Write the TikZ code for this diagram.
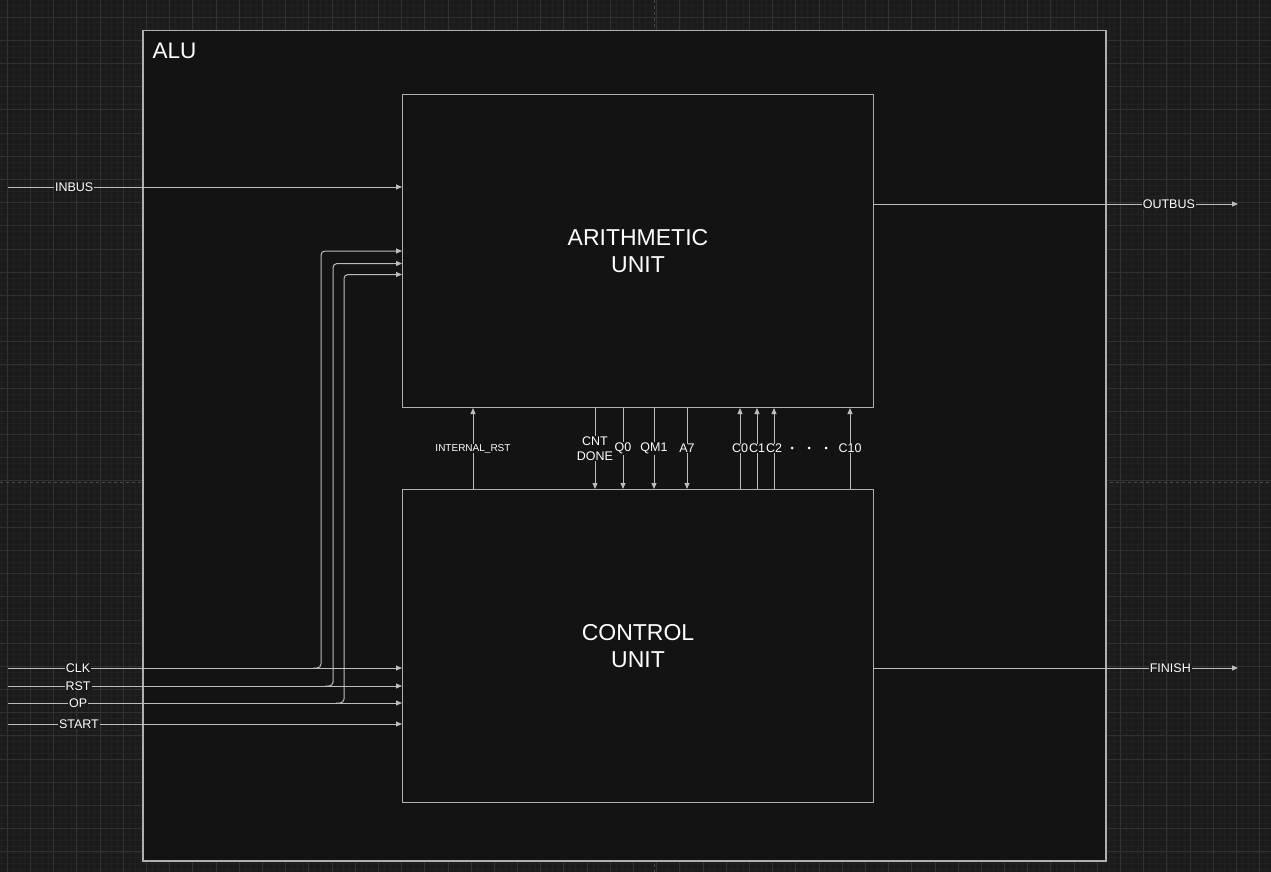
\documentclass[tikz,border=0pt]{standalone}
\usepackage{fontspec}
\setmainfont{Liberation Sans}
\usetikzlibrary{arrows.meta,positioning,calc}

\definecolor{canvas}{HTML}{1B1B1B}
\definecolor{gridminor}{HTML}{212121}
\definecolor{gridmajor}{HTML}{323232}
\definecolor{pagebreak}{HTML}{4A4A4A}
\definecolor{boxfill}{HTML}{131313}
\definecolor{framegray}{HTML}{B0B0B0}
\definecolor{wiregray}{HTML}{BDBDBD}

\begin{document}
\begin{tikzpicture}[
  x=1pt, y=-1pt,
  font=\fontsize{12.5}{15}\selectfont,
  >={Triangle[length=6pt,width=5pt]},
  frame/.style={
    rectangle,
    draw=framegray,
    line width=1.5pt,
    fill=boxfill,
    anchor=north west,
    minimum width=963pt,
    minimum height=830pt
  },
  unit/.style={
    rectangle,
    draw=framegray,
    line width=1pt,
    fill=boxfill,
    align=center,
    text=white,
    minimum width=471pt,
    minimum height=313pt,
    font=\fontsize{23}{27}\selectfont
  },
  wire/.style={draw=wiregray, line width=1pt},
  sig/.style={->, wire},
  tag/.style={fill=canvas, text=white, inner sep=1pt, align=center},
  midtag/.style={tag, fill=boxfill, inner sep=0.5pt, midway},
  gridline/.style={draw=gridminor, line width=0.6pt},
  gridbold/.style={draw=gridmajor, line width=0.8pt}
]

% canvas and grid
\useasboundingbox (0,0) rectangle (1271,872);
\fill[canvas] (0,0) rectangle (1271,872);
\foreach \i in {0,...,219}
  \draw[gridline] ({1.5+5.7975*\i},0) -- ++(0,872);
\foreach \i in {0,...,151}
  \draw[gridline] (0,{-0.4+5.7975*\i}) -- ++(1271,0);
\foreach \i in {0,...,54}
  \draw[gridbold] ({7.3+23.19*\i},0) -- ++(0,872);
\foreach \i in {0,...,37}
  \draw[gridbold] (0,{17+23.19*\i}) -- ++(1271,0);
\draw[pagebreak, dashed, line width=1pt] (654,0) -- (654,872);
\draw[pagebreak, dashed, line width=1pt] (0,482) -- (1271,482);

% blocks
\node[frame] (alu) at (142,30) {};
\node[anchor=base west, text=white, font=\fontsize{22.5}{26}\selectfont] (alutitle)
  at ($(alu.north west)+(7,29)$) {ALU};
\node[unit, anchor=north west] (au) at (402,94) {ARITHMETIC\\UNIT};
\node[unit, below=81pt of au] (cu) {CONTROL\\UNIT};

% inputs
\coordinate (inbus) at (8,187);
\coordinate (clk) at (8,668);
\coordinate (rst) at (8,686);
\coordinate (op) at (8,703);
\coordinate (start) at (8,724);

\draw[sig] (inbus) -- (au.west |- inbus) node[tag, pos=0.168] {INBUS};
\draw[sig] (clk) -- (cu.west |- clk) node[tag, pos=0.178] {CLK};
\draw[sig] (rst) -- (cu.west |- rst) node[tag, pos=0.178] {RST};
\draw[sig] (op) -- (cu.west |- op) node[tag, pos=0.178] {OP};
\draw[sig] (start) -- (cu.west |- start) node[tag, pos=0.18] {START};

\draw[sig, rounded corners=4pt] ($(clk)+(305,0)$) -- ++(8,0) |- (au.west);
\draw[sig, rounded corners=4pt] ($(rst)+(317,0)$) -- ++(8,0) |- ($(au.west)+(0,12.5)$);
\draw[sig, rounded corners=4pt] ($(op)+(328,0)$) -- ++(8,0) |- ($(au.west)+(0,23.5)$);

% outputs
\coordinate (outbus) at (1238,204);
\coordinate (finish) at (1238,668);
\draw[sig] (au.east |- outbus) -- (outbus) node[tag, pos=0.81] {OUTBUS};
\draw[sig] (cu.east |- finish) -- (finish) node[tag, pos=0.814] {FINISH};

% internal signals
\draw[sig] (cu.north -| 473,0) -- (au.south -| 473,0)
  node[midtag, font=\fontsize{10}{12}\selectfont] {INTERNAL\_RST};
\foreach \x/\txt in {595/{CNT\\DONE}, 623/Q0, 654/QM1, 687/A7}
  \draw[sig] (au.south -| \x,0) -- (cu.north -| \x,0) node[midtag] {\txt};
\foreach \x/\txt in {740/C0, 757/C1, 774/C2, 850/C10}
  \draw[sig] (cu.north -| \x,0) -- (au.south -| \x,0) node[midtag] {\txt};
\foreach \x in {792,809,826}
  \fill[white] (\x,448) circle (1.5pt);

\end{tikzpicture}
\end{document}
